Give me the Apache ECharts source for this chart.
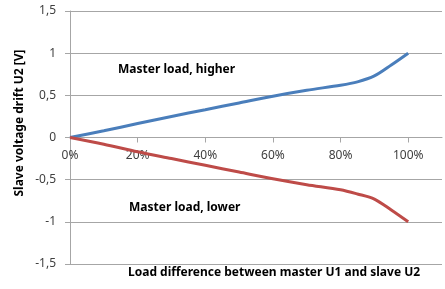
<!DOCTYPE html>
<html>
<head>
<meta charset="utf-8">
<script src="https://cdn.jsdelivr.net/npm/echarts@6/dist/echarts.min.js"></script>
<style>
  html, body { margin: 0; padding: 0; background: #fff; }
  #chart { width: 445px; height: 289px; }
</style>
</head>
<body>
<div id="chart"></div>
<script>
// load difference (fraction of 100%)
const loadDiff = [0, 0.1, 0.2, 0.3, 0.4, 0.5, 0.6, 0.7, 0.8, 0.85, 0.9, 0.95, 1.0];
const higherValues = [0, 0.08, 0.165, 0.25, 0.33, 0.41, 0.49, 0.56, 0.62, 0.66, 0.73, 0.86, 1.0];
const lowerValues = [0, -0.08, -0.17, -0.25, -0.33, -0.41, -0.49, -0.56, -0.62, -0.67, -0.73, -0.86, -1.0];
const xTicks = [0, 0.2, 0.4, 0.6, 0.8, 1.0];

const chart = echarts.init(document.getElementById("chart"));

const font = "'Noto Sans', sans-serif";

const option = {
  animation: false,
  grid: { left: 70, right: 3, top: 11, bottom: 25 },
  xAxis: {
    type: "value",
    min: 0,
    max: 1.1,
    position: "bottom",
    // put the category axis on the zero line, labels and ticks included
    offset: -126.5,
    axisLine: { onZero: false, lineStyle: { color: "#a6a6a6", width: 1 } },
    axisTick: { show: true, length: 5, lineStyle: { color: "#a6a6a6" }, customValues: xTicks },
    axisLabel: {
      customValues: xTicks,
      margin: 12,
      color: "#404040",
      fontFamily: font,
      fontSize: 12,
      formatter: (v) => Math.round(v * 100) + "%",
    },
    splitLine: { show: false },
  },
  yAxis: {
    type: "value",
    min: -1.5,
    max: 1.5,
    interval: 0.5,
    axisLine: { show: true, lineStyle: { color: "#a6a6a6", width: 1 } },
    axisTick: { show: true, length: 5, lineStyle: { color: "#a6a6a6" } },
    axisLabel: {
      margin: 14,
      color: "#404040",
      fontFamily: font,
      fontSize: 12,
      formatter: (v) => String(v).replace(".", ","),
    },
    splitLine: { show: true, lineStyle: { color: "#a6a6a6", width: 1 } },
  },
  graphic: [
    {
      type: "text",
      left: 118,
      top: 64,
      style: { text: "Master load, higher", font: "bold 12px " + font, fill: "#000" },
    },
    {
      type: "text",
      left: 129,
      top: 202,
      style: { text: "Master load, lower", font: "bold 12px " + font, fill: "#000" },
    },
    {
      type: "text",
      left: 128,
      top: 267,
      style: { text: "Load difference between master U1 and slave U2", font: "bold 12px " + font, fill: "#000" },
    },
    {
      type: "text",
      x: 20,
      y: 123,
      rotation: Math.PI / 2,
      style: {
        text: "Slave voltage drift U2 [V]",
        font: "bold 12px " + font,
        fill: "#000",
        align: "center",
        verticalAlign: "middle",
      },
    },
  ],
  series: [
    {
      name: "Master load, higher",
      type: "line",
      data: loadDiff.map((x, i) => [x, higherValues[i]]),
      smooth: 0.3,
      showSymbol: false,
      lineStyle: { color: "#4a7ebb", width: 3 },
    },
    {
      name: "Master load, lower",
      type: "line",
      data: loadDiff.map((x, i) => [x, lowerValues[i]]),
      smooth: 0.3,
      showSymbol: false,
      lineStyle: { color: "#be4b48", width: 3 },
    },
  ],
};

chart.setOption(option);
</script>
</body>
</html>
